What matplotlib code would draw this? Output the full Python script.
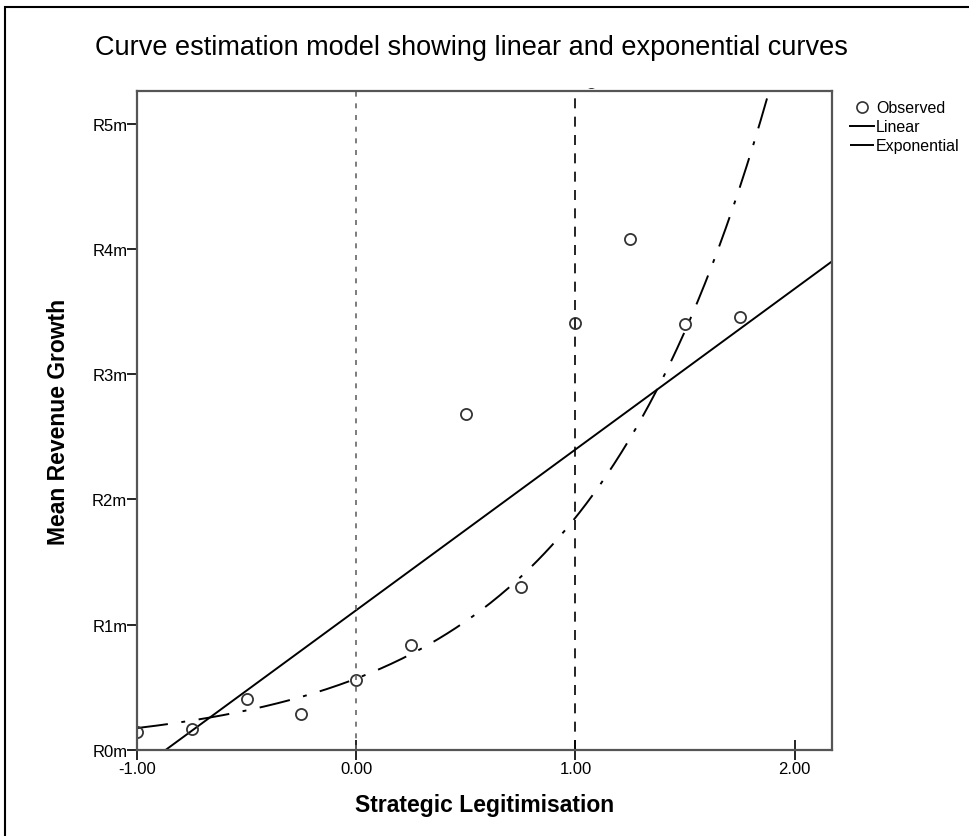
import numpy as np
import matplotlib
matplotlib.use('Agg')
import matplotlib.pyplot as plt
from matplotlib.lines import Line2D
from matplotlib.patches import Rectangle
from matplotlib.transforms import Bbox, TransformedBbox

#%% data
strategic_x = [-1.00, -0.75, -0.50, -0.25, 0.00, 0.25, 0.50, 0.75, 1.00, 1.25, 1.50, 1.75, 1.07]
revenue_m = [0.14, 0.17, 0.41, 0.285, 0.56, 0.84, 2.68, 1.30, 3.41, 4.08, 3.40, 3.46, 5.33]
# model coefficients (R millions)
lin_b0, lin_b1 = 1.116, 1.283
exp_a, exp_b = 0.57, 1.18

x_ticks = [-1.0, 0.0, 1.0, 2.0]
x_ticklabels = ['-1.00', '0.00', '1.00', '2.00']
y_ticks = [0, 1, 2, 3, 4, 5]
y_ticklabels = ['R0m', 'R1m', 'R2m', 'R3m', 'R4m', 'R5m']

plt.rcParams['font.family'] = ['Liberation Sans', 'DejaVu Sans']

fig = plt.figure(figsize=(9.69, 8.37), dpi=100)
fig.patches.append(Rectangle((5/969, -0.1), 1.2, 0.1 + 1 - 8/837, transform=fig.transFigure,
                             fill=False, ec='black', lw=1.5))
ax0 = fig.add_axes([137/969, 1-751/837, (832-137)/969, (751-92)/837])

# clip region reaching a few pixels over the top of the frame
clipbox = TransformedBbox(Bbox([[0, 0], [1, 1.005]]), ax0.transAxes)

xx = np.linspace(-1.0, 2.17, 400)
ax0.plot(xx, lin_b0 + lin_b1*xx, '-', c='black', lw=1.4, label='Linear')
lexp, = ax0.plot(xx, exp_a*np.exp(exp_b*xx), c='black', lw=1.4, dashes=(16, 7, 2, 7), label='Exponential')
lexp.set_clip_box(clipbox)
lobs, = ax0.plot(strategic_x, revenue_m, 'o', ms=8, mfc='none', mec='#333333', mew=1.3, label='Observed')
lobs.set_clip_box(clipbox)

ax0.axvline(0.0, c='#666666', lw=1.2, dashes=(3, 4))
ax0.axvline(1.0, c='black', lw=1.2, dashes=(6, 5))

ax0.set_xlim([-1.0, 2.17])
ax0.set_ylim([0, 5.26])
ax0.set_xticks(x_ticks)
ax0.set_xticklabels(x_ticklabels)
ax0.set_yticks(y_ticks)
ax0.set_yticklabels(y_ticklabels)
ax0.tick_params(axis='x', direction='inout', length=14, width=1.2, labelsize=12, pad=1)
ax0.tick_params(axis='y', direction='out', length=7, width=1.2, labelsize=12, pad=0)
for s in ax0.spines.values():
    s.set_color('#555555')
    s.set_linewidth(1.6)

ax0.set_xlabel('Strategic Legitimisation', fontsize=16.5, fontweight='bold', labelpad=12)
ax0.set_ylabel('Mean Revenue Growth', fontsize=16.5, fontweight='bold', labelpad=16)
fig.text(0.487, 1-48/837, 'Curve estimation model showing linear and exponential curves',
         ha='center', va='center', fontsize=19.5)

handles = [Line2D([], [], ls='none', marker='o', ms=8, mfc='none', mec='#333333', mew=1.2),
           Line2D([], [], c='black', lw=1.4),
           Line2D([], [], c='black', lw=1.4, dashes=(16, 7, 2, 7))]
fig.legend(handles, ['Observed', 'Linear', 'Exponential'], loc='upper left',
           bbox_to_anchor=(844/969, 1-95/837), frameon=False, fontsize=11.5,
           handlelength=1.5, handletextpad=0.1, labelspacing=0.25, borderaxespad=0)

fig.savefig('out.png', dpi=100)
